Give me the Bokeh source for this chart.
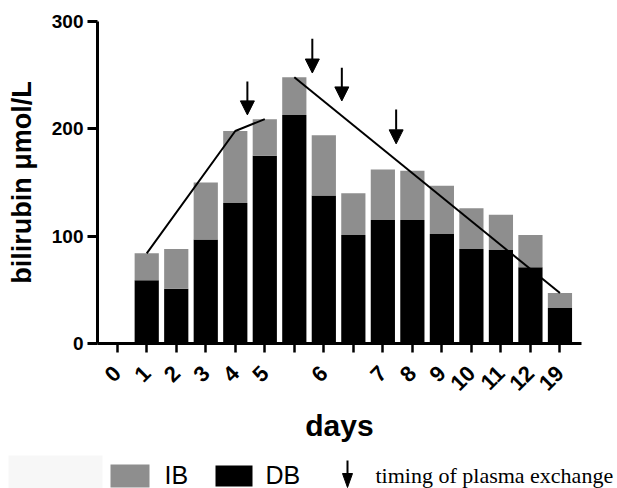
import math
from bokeh.plotting import figure
from bokeh.models import Range1d, FixedTicker, Arrow, NormalHead, ColumnDataSource
from bokeh.embed import file_html
from bokeh.resources import INLINE
from bokeh.core.properties import value

# ---- data ----
positions = list(range(16))
tick_labels = ["0", "1", "2", "3", "4", "5", "", "6", "", "7", "8", "9", "10", "11", "12", "19"]
total = [0, 84, 88, 150, 198, 209, 248, 194, 140, 162, 161, 147, 126, 120, 101, 47]
db = [0, 59, 51, 97, 131, 175, 213, 138, 101, 115, 115, 102, 88, 87, 71, 33]
ib = [t - d for t, d in zip(total, db)]
rise_idx = [1, 4, 5]
fall_idx = [6, 15]
exchange_x = [4.41, 6.61, 7.61, 9.45]
exchange_tail = [244, 284, 257, 218]
exchange_tip = [213, 252, 226, 186]
y_ticks = [0, 100, 200, 300]

FONT = "Liberation Sans"
GRAY = "#8e8e8e"

src = ColumnDataSource(dict(x=positions, db=db, ib=ib))

p = figure(width=617, height=452,
           x_range=Range1d(-0.668, 15.73), y_range=Range1d(0, 300),
           output_backend="svg", toolbar_location=None,
           min_border_left=97, min_border_right=36,
           min_border_top=21, min_border_bottom=109)

p.vbar_stack(["db", "ib"], x="x", width=0.82, source=src,
             fill_color=["#000000", GRAY], line_color=None)

p.line([positions[i] for i in rise_idx], [total[i] for i in rise_idx],
       line_color="black", line_width=2)
p.line([positions[i] for i in fall_idx], [total[i] for i in fall_idx],
       line_color="black", line_width=2)

for x, t0, t1 in zip(exchange_x, exchange_tail, exchange_tip):
    p.add_layout(Arrow(end=NormalHead(size=14, fill_color="black", line_color="black", line_width=1),
                       x_start=x, y_start=t0, x_end=x, y_end=t1,
                       line_color="black", line_width=2))

p.xgrid.visible = False
p.ygrid.visible = False
p.outline_line_color = None

for ax in (p.xaxis[0], p.yaxis[0]):
    ax.axis_line_width = 3
    ax.axis_line_color = "black"
    ax.major_tick_line_width = 3
    ax.major_tick_line_color = "black"
    ax.major_tick_in = 0
    ax.minor_tick_line_color = None
    ax.major_label_text_font = FONT
    ax.major_label_text_font_style = "bold"
    ax.major_label_text_color = "black"
    ax.axis_label_text_font = FONT
    ax.axis_label_text_font_style = "bold"
    ax.axis_label_text_color = "black"

p.xaxis.ticker = FixedTicker(ticks=positions)
p.xaxis.major_label_overrides = {i: lbl for i, lbl in zip(positions, tick_labels)}
p.xaxis.major_label_orientation = math.pi / 4
p.xaxis.major_tick_out = 9
p.xaxis.major_tick_line_width = 2.5
p.xaxis.major_label_text_font_size = "22px"
p.xaxis.major_label_standoff = 17
p.xaxis.axis_label = "days"
p.xaxis.axis_label_text_font_size = "30px"
p.xaxis.axis_label_standoff = 9

p.yaxis.ticker = FixedTicker(ticks=y_ticks)
p.yaxis.major_tick_out = 10
p.yaxis.major_label_text_font_size = "19px"
p.yaxis.major_label_standoff = 4
p.yaxis.axis_label = "bilirubin μmol/L"
p.yaxis.axis_label_text_font_size = "27px"
p.yaxis.axis_label_standoff = 12

# ---- legend strip (pixel coordinates, y measured from strip top) ----
leg = figure(width=617, height=36, x_range=Range1d(0, 617), y_range=Range1d(36, 0),
             output_backend="svg", toolbar_location=None, min_border=0,
             x_axis_type=None, y_axis_type=None)
leg.xgrid.visible = False
leg.ygrid.visible = False
leg.outline_line_color = None

leg.quad(left=[8, 110, 215], right=[102, 149, 252], top=[3, 12, 13], bottom=[36, 35, 34],
         fill_color=["#f7f7f7", GRAY, "#000000"], line_color=None)
leg.text(x=[164, 265], y=[22, 22], text=["IB", "DB"], text_font=value(FONT),
         text_font_size="25px", text_baseline="middle", text_align="left", text_color="black")
leg.segment(x0=[347], y0=[8], x1=[347], y1=[23], line_color="black", line_width=2)
leg.patch(x=[342, 352, 347], y=[21, 21, 35], fill_color="black", line_color="black")
leg.text(x=[375], y=[23], text=["timing of plasma exchange"], text_font=value("Liberation Serif"),
         text_font_size="22px", text_baseline="middle", text_align="left", text_color="black")

open("out.html", "w").write(file_html([p, leg], INLINE))
